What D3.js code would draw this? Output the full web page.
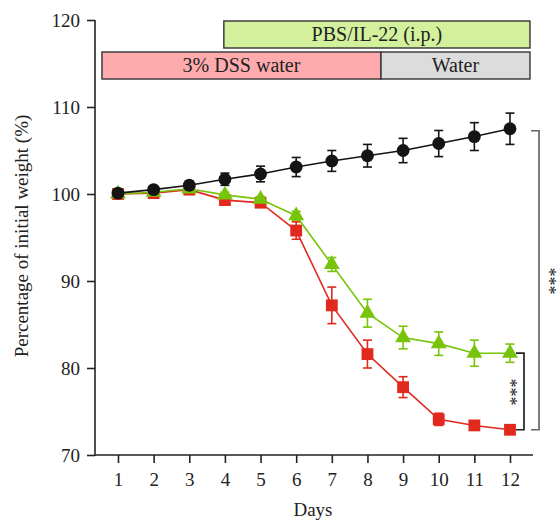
<!DOCTYPE html>
<html>
<head>
<meta charset="utf-8">
<script src="https://cdn.jsdelivr.net/npm/d3@7"></script>
<style>
  html, body { margin: 0; padding: 0; background: #fff; }
  svg { display: block; }
  text { font-family: "Liberation Serif", "DejaVu Serif", serif; fill: #222; }
</style>
</head>
<body>
<svg id="chart" width="558" height="528"></svg>
<script>
// Body weight over the course of DSS colitis (percent of day-1 weight)
const days = [1, 2, 3, 4, 5, 6, 7, 8, 9, 10, 11, 12];

const controlMean = [100.1, 100.5, 101.0, 101.7, 102.3, 103.1, 103.8, 104.4, 105.0, 105.8, 106.6, 107.5];
const controlErr  = [0.2, 0.3, 0.5, 0.7, 0.9, 1.1, 1.2, 1.3, 1.4, 1.5, 1.6, 1.8];

const il22Mean = [100.0, 100.2, 100.6, 99.9, 99.4, 97.5, 91.9, 86.3, 83.5, 82.8, 81.7, 81.7];
const il22Err  = [0.1, 0.2, 0.2, 0.3, 0.3, 0.5, 0.8, 1.6, 1.3, 1.35, 1.5, 1.05];

const pbsMean = [100.0, 100.1, 100.5, 99.3, 99.0, 95.8, 87.2, 81.6, 77.8, 74.1, 73.4, 72.9];
const pbsErr  = [0.1, 0.2, 0.2, 0.3, 0.3, 1.0, 2.1, 1.6, 1.2, 0.7, 0.3, 0.2];

const yTicks = [70, 80, 90, 100, 110, 120];

// Treatment bars drawn above the curves
const treatmentLabels = ["PBS/IL-22 (i.p.)", "3% DSS water", "Water"];
const treatmentStart  = [3.97, 0.55, 8.38];
const treatmentEnd    = [12.56, 8.38, 12.56];
const treatmentRow    = [0, 1, 1];
const treatmentFill   = ["#d3f19c", "#ffabae", "#dcdcdc"];

const svg = d3.select("#chart");

const x = d3.scaleLinear().domain([1, 12]).range([118, 510]);
const y = d3.scaleLinear().domain([70, 120]).range([455, 20]);

const axisLeftX = 95;
const axisRight = 533;
const tickFont = "19px";

// Y axis
const yAxis = svg.append("g")
  .attr("transform", `translate(${axisLeftX},0)`)
  .call(d3.axisLeft(y).tickValues(yTicks).tickSize(8).tickPadding(7).tickFormat(d3.format("d")));
yAxis.select(".domain").remove();
yAxis.append("line").attr("x1", 0).attr("x2", 0).attr("y1", y(120)).attr("y2", y(70) + 0.75)
  .attr("stroke", "#222").attr("stroke-width", 1.6);
yAxis.selectAll(".tick line").attr("stroke", "#222").attr("stroke-width", 1.6);
yAxis.selectAll(".tick text").style("font-size", tickFont).attr("fill", "#222")
  .style("font-family", "'Liberation Serif', serif");

// X axis
const xAxis = svg.append("g")
  .attr("transform", `translate(0,${y(70)})`)
  .call(d3.axisBottom(x).tickValues(days).tickSize(8).tickPadding(10).tickFormat(d3.format("d")));
xAxis.select(".domain").remove();
xAxis.append("line").attr("x1", axisLeftX).attr("x2", axisRight).attr("y1", 0).attr("y2", 0)
  .attr("stroke", "#222").attr("stroke-width", 1.6);
xAxis.selectAll(".tick line").attr("stroke", "#222").attr("stroke-width", 1.6);
xAxis.selectAll(".tick text").style("font-size", tickFont).attr("fill", "#222")
  .style("font-family", "'Liberation Serif', serif");

// Axis titles
svg.append("text")
  .attr("x", 313).attr("y", 516)
  .attr("text-anchor", "middle")
  .style("font-size", "19px")
  .text("Days");

svg.append("text")
  .attr("transform", `translate(28,236) rotate(-90)`)
  .attr("text-anchor", "middle")
  .style("font-size", "19px")
  .text("Percentage of initial weight (%)");

// Treatment bars
const rowTop = [21, 52];
const rowH = 27;
treatmentLabels.forEach((label, i) => {
  const x0 = x(treatmentStart[i]);
  const x1 = x(treatmentEnd[i]);
  const top = rowTop[treatmentRow[i]];
  svg.append("rect")
    .attr("x", x0).attr("y", top)
    .attr("width", x1 - x0).attr("height", rowH)
    .attr("fill", treatmentFill[i])
    .attr("stroke", "#333").attr("stroke-width", 1.4);
  svg.append("text")
    .attr("x", (x0 + x1) / 2).attr("y", top + rowH / 2 + 6.5)
    .attr("text-anchor", "middle")
    .style("font-size", "20px")
    .text(label);
});

// Series drawing
const line = d3.line().x((d, i) => x(days[i])).y(d => y(d));

function drawSeries(means, errs, color, shape) {
  const g = svg.append("g");
  g.append("path")
    .datum(means)
    .attr("d", line)
    .attr("fill", "none")
    .attr("stroke", color)
    .attr("stroke-width", 1.6);

  const cap = 4.5;
  means.forEach((m, i) => {
    const cx = x(days[i]);
    const hi = y(m + errs[i]);
    const lo = y(m - errs[i]);
    const eg = g.append("g").attr("stroke", color).attr("stroke-width", 1.6);
    eg.append("line").attr("x1", cx).attr("x2", cx).attr("y1", hi).attr("y2", lo);
    eg.append("line").attr("x1", cx - cap).attr("x2", cx + cap).attr("y1", hi).attr("y2", hi);
    eg.append("line").attr("x1", cx - cap).attr("x2", cx + cap).attr("y1", lo).attr("y2", lo);
  });

  g.selectAll(".marker")
    .data(means)
    .enter()
    .append("path")
    .attr("transform", (d, i) => `translate(${x(days[i])},${y(d)})`)
    .attr("d", d3.symbol().type(shape.type).size(shape.size))
    .attr("fill", color);
}

drawSeries(pbsMean, pbsErr, "#e2291d", { type: d3.symbolSquare, size: 140 });
drawSeries(il22Mean, il22Err, "#78c40a", { type: d3.symbolTriangle, size: 110 });
drawSeries(controlMean, controlErr, "#141414", { type: d3.symbolCircle, size: 130 });

// Significance brackets, each with a rotated "***" label
function bracket(yTop, yBottom, xv, xTick, color, labelX, labelY) {
  svg.append("path")
    .attr("d", `M${xTick},${yTop}H${xv}V${yBottom}H${xTick}`)
    .attr("fill", "none")
    .attr("stroke", color)
    .attr("stroke-width", 1.7);
  svg.append("text")
    .attr("transform", `translate(${labelX},${labelY}) rotate(90)`)
    .attr("text-anchor", "middle")
    .style("font-size", "18px")
    .attr("fill", "#444")
    .text("***");
}

bracket(y(controlMean[11]) + 2, y(pbsMean[11]), 539, 531, "#666", 543, 281);
bracket(y(il22Mean[11]), y(pbsMean[11]), 524, 516, "#222", 504, 392);
</script>
</body>
</html>
